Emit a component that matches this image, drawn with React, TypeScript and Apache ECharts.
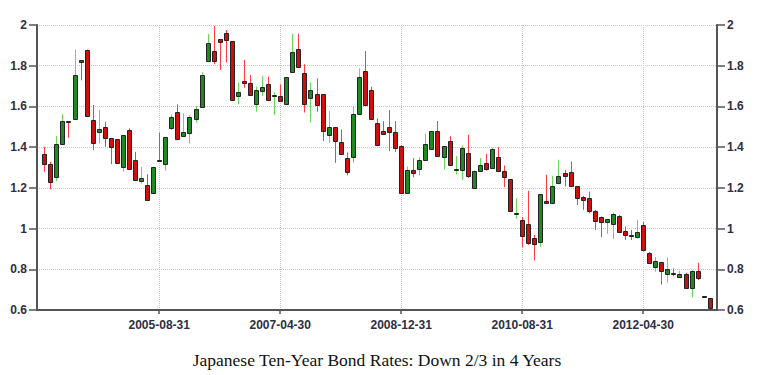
import React, { useEffect, useRef } from "react";
import * as echarts from "echarts";

// Monthly candles, 2004-01 .. 2013-03 (index 0 = 2004-01)
const opens = [
  1.364, 1.318, 1.254, 1.413, 1.528, 1.536, 1.828, 1.879, 1.533, 1.475,
  1.498, 1.443, 1.438, 1.303, 1.484, 1.336, 1.233, 1.216, 1.177, 1.338,
  1.318, 1.492, 1.572, 1.454, 1.470, 1.536, 1.598, 1.825, 1.872, 1.930,
  1.959, 1.921, 1.651, 1.726, 1.713, 1.611, 1.677, 1.708, 1.655, 1.652,
  1.610, 1.767, 1.882, 1.766, 1.639, 1.662, 1.662, 1.459, 1.498, 1.426,
  1.348, 1.352, 1.561, 1.775, 1.679, 1.521, 1.477, 1.498, 1.472, 1.408,
  1.174, 1.289, 1.293, 1.339, 1.389, 1.479, 1.351, 1.430, 1.293, 1.289,
  1.370, 1.198, 1.282, 1.323, 1.298, 1.351, 1.285, 1.244, 1.074, 1.043,
  1.021, 0.952, 0.936, 1.136, 1.125, 1.223, 1.275, 1.280, 1.207, 1.157,
  1.149, 1.087, 1.056, 1.031, 1.021, 1.064, 0.989, 0.967, 0.957, 1.016,
  0.881, 0.809, 0.837, 0.776, 0.784, 0.763, 0.779, 0.709, 0.791, 0.667,
  0.657,
];
const closes = [
  1.316, 1.230, 1.415, 1.528, 1.522, 1.754, 1.820, 1.554, 1.420, 1.489,
  1.443, 1.402, 1.323, 1.459, 1.295, 1.241, 1.246, 1.139, 1.303, 1.333,
  1.448, 1.546, 1.438, 1.472, 1.549, 1.585, 1.754, 1.910, 1.825, 1.916,
  1.926, 1.634, 1.669, 1.713, 1.656, 1.680, 1.697, 1.634, 1.657, 1.628,
  1.743, 1.866, 1.795, 1.610, 1.680, 1.607, 1.480, 1.500, 1.430, 1.364,
  1.279, 1.561, 1.746, 1.607, 1.538, 1.410, 1.466, 1.472, 1.398, 1.174,
  1.289, 1.272, 1.338, 1.413, 1.479, 1.356, 1.405, 1.310, 1.295, 1.397,
  1.257, 1.285, 1.313, 1.293, 1.392, 1.282, 1.252, 1.085, 1.077, 0.964,
  0.928, 0.925, 1.169, 1.125, 1.207, 1.259, 1.259, 1.207, 1.149, 1.138,
  1.087, 1.038, 1.033, 1.048, 1.072, 0.985, 0.969, 0.964, 0.985, 0.894,
  0.833, 0.840, 0.792, 0.799, 0.779, 0.779, 0.709, 0.791, 0.755, 0.666,
  0.608,
];
const lows = [
  1.279, 1.193, 1.233, 1.410, 1.446, 1.536, 1.728, 1.554, 1.385, 1.418,
  1.402, 1.316, 1.323, 1.279, 1.295, 1.241, 1.221, 1.139, 1.177, 1.333,
  1.284, 1.484, 1.438, 1.451, 1.418, 1.520, 1.598, 1.825, 1.807, 1.779,
  1.816, 1.634, 1.610, 1.692, 1.656, 1.574, 1.652, 1.634, 1.557, 1.628,
  1.610, 1.767, 1.795, 1.570, 1.521, 1.574, 1.430, 1.421, 1.323, 1.364,
  1.262, 1.323, 1.561, 1.607, 1.538, 1.410, 1.459, 1.380, 1.377, 1.174,
  1.174, 1.252, 1.261, 1.339, 1.389, 1.356, 1.289, 1.310, 1.266, 1.239,
  1.249, 1.198, 1.282, 1.285, 1.298, 1.282, 1.203, 1.085, 1.048, 0.908,
  0.920, 0.843, 0.911, 1.125, 1.125, 1.218, 1.207, 1.207, 1.116, 1.092,
  1.075, 0.993, 0.957, 0.974, 0.948, 0.985, 0.944, 0.944, 0.952, 0.894,
  0.832, 0.788, 0.725, 0.734, 0.766, 0.760, 0.709, 0.662, 0.747, 0.666,
  0.608,
];
const highs = [
  1.402, 1.328, 1.454, 1.562, 1.528, 1.879, 1.828, 1.879, 1.607, 1.582,
  1.525, 1.443, 1.438, 1.459, 1.492, 1.377, 1.303, 1.267, 1.303, 1.472,
  1.448, 1.561, 1.610, 1.566, 1.557, 1.603, 1.767, 1.956, 1.995, 1.930,
  1.975, 1.921, 1.718, 1.828, 1.754, 1.697, 1.749, 1.746, 1.669, 1.708,
  1.743, 1.956, 1.956, 1.807, 1.718, 1.738, 1.662, 1.577, 1.498, 1.487,
  1.374, 1.602, 1.787, 1.872, 1.697, 1.541, 1.528, 1.582, 1.528, 1.408,
  1.305, 1.346, 1.351, 1.466, 1.479, 1.528, 1.405, 1.454, 1.356, 1.408,
  1.461, 1.285, 1.346, 1.367, 1.397, 1.400, 1.310, 1.244, 1.149, 1.056,
  1.185, 0.969, 1.169, 1.264, 1.259, 1.338, 1.289, 1.330, 1.207, 1.161,
  1.182, 1.092, 1.059, 1.048, 1.079, 1.067, 1.010, 0.993, 1.043, 1.033,
  0.886, 0.861, 0.837, 0.858, 0.804, 0.792, 0.783, 0.796, 0.832, 0.667,
  0.657,
];

const tickIndex = [19, 39, 59, 79, 99];
const tickLabels = ["2005-08-31", "2007-04-30", "2008-12-31", "2010-08-31", "2012-04-30"];
const titleText = "Japanese Ten-Year Bond Rates: Down 2/3 in 4 Years";

const labelFont = "'Liberation Sans', Arial, sans-serif";
const labelColor = "#2e2e44";
const axisColor = "#555";
const wickUp = "#66d955";
const wickDown = "#ff3b3b";
const bodyUp = "#1f8a22";
const bodyDown = "#cc1010";

export default function App() {
  const ref = useRef<HTMLDivElement>(null);
  useEffect(() => {
    const chart = echarts.init(ref.current!, null, { renderer: "svg" });
    const data = opens.map((o, i) => [i, o, closes[i], lows[i], highs[i]]);
    const yAxisBase = (pos: "left" | "right", grid: boolean) => ({
      type: "value",
      position: pos,
      min: 0.6,
      max: 2,
      interval: 0.2,
      axisLine: { show: true, onZero: false, lineStyle: { color: axisColor, width: 2 } },
      axisTick: { show: true, length: 8, lineStyle: { color: axisColor, width: 1.5 } },
      axisLabel: {
        margin: 10,
        fontSize: 12,
        fontWeight: "bold",
        fontFamily: labelFont,
        color: labelColor,
      },
      splitLine: { show: grid, lineStyle: { type: "dotted", color: "#c8c8c8", width: 1 } },
    });
    const option: any = {
      animation: false,
      backgroundColor: "#fff",
      grid: { left: 37, top: 25, width: 680, height: 285, containLabel: false },
      xAxis: {
        type: "value",
        min: -1.2,
        max: 111.2,
        axisLine: { show: true, onZero: false, lineStyle: { color: axisColor, width: 2 } },
        axisTick: {
          show: true,
          customValues: tickIndex,
          length: 4,
          lineStyle: { color: axisColor, width: 1.5 },
        },
        axisLabel: {
          customValues: tickIndex,
          formatter: (v: number) => {
            const k = tickIndex.indexOf(Math.round(v));
            return k >= 0 ? tickLabels[k] : "";
          },
          margin: 9,
          fontSize: 12,
          fontWeight: "bold",
          fontFamily: labelFont,
          color: labelColor,
        },
        splitLine: { show: true, lineStyle: { type: "dotted", color: "#c8c8c8", width: 1 } },
      },
      yAxis: [yAxisBase("left", true), yAxisBase("right", false)],
      series: [
        {
          type: "custom",
          xAxisIndex: 0,
          yAxisIndex: 0,
          data,
          encode: { x: 0, y: [1, 2, 3, 4] },
          renderItem: (params: any, api: any) => {
            const i = api.value(0);
            const o = api.value(1);
            const c = api.value(2);
            const l = api.value(3);
            const h = api.value(4);
            const pO = api.coord([i, o]);
            const pC = api.coord([i, c]);
            const pL = api.coord([i, l]);
            const pH = api.coord([i, h]);
            const up = c >= o;
            const cx = Math.round(pO[0]) + 0.5;
            const yTop = Math.round(Math.min(pO[1], pC[1])) + 0.5;
            let yBot = Math.round(Math.max(pO[1], pC[1])) + 0.5;
            if (yBot - yTop < 1) yBot = yTop + 1;
            return {
              type: "group",
              children: [
                {
                  type: "line",
                  shape: { x1: cx, y1: pH[1], x2: cx, y2: pL[1] },
                  style: { stroke: up ? wickUp : wickDown, lineWidth: 1 },
                },
                {
                  type: "rect",
                  shape: { x: cx - 2, y: yTop, width: 4, height: yBot - yTop },
                  style: { fill: up ? bodyUp : bodyDown, stroke: "#222", lineWidth: 1 },
                },
              ],
            };
          },
        },
      ],
      graphic: [
        {
          type: "text",
          x: 377,
          y: 360,
          style: {
            text: titleText,
            fontSize: 17.5,
            fontFamily: "'Liberation Serif', 'Times New Roman', serif",
            fill: "#111",
            align: "center",
            verticalAlign: "middle",
          },
        },
      ],
    };
    chart.setOption(option);
    return () => chart.dispose();
  }, []);
  return (
    <div
      ref={ref}
      style={{ position: "fixed", left: 0, top: 0, width: 765, height: 375, background: "#fff" }}
    />
  );
}
